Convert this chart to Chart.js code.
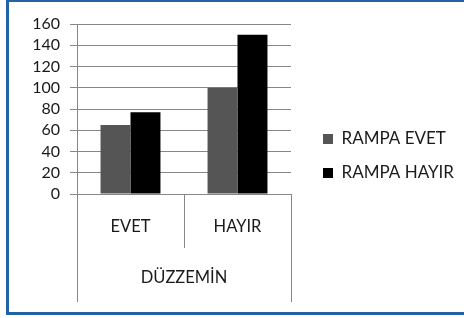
<!DOCTYPE html>
<html>
<head>
<meta charset="utf-8">
<script src="https://cdn.jsdelivr.net/npm/chart.js@4/dist/chart.umd.min.js"></script>
<style>
  html, body { margin: 0; padding: 0; background: #ffffff; overflow: hidden; }
  #wrap { position: relative; width: 464px; height: 318px; overflow: hidden; }
  #frame { position: absolute; left: 6px; top: -1px; width: 500px; height: 310px; border: 3px solid #2462a8; pointer-events: none; }
  #c { position: absolute; left: 0; top: 0; }
</style>
</head>
<body>
<div id="wrap">
  <div id="frame"></div>
  <canvas id="c" width="464" height="318"></canvas>
</div>
<script>
const categories = ['EVET', 'HAYIR'];
const groupLabel = 'DÜZZEMİN';
const seriesNames = ['RAMPA EVET', 'RAMPA HAYIR'];
const rampaEvet = [65, 100];
const rampaHayir = [77, 150];
const yTicks = [0, 20, 40, 60, 80, 100, 120, 140, 160];

const FONT = 'Lato, "Open Sans", "Liberation Sans", sans-serif';
const TEXT = '#1a1a1a';
const GRID = '#878787';

const multiLevelLines = {
  id: 'multiLevelLines',
  afterLayout(chart) {
    const lg = chart.legend;
    if (lg) {
      lg.left += 15;
      lg.right = chart.width + 40;
      lg.top -= 7; lg.bottom -= 7;
    }
  },
  afterDraw(chart) {
    const x = chart.scales.x;
    const area = chart.chartArea;
    const ctx = chart.ctx;
    ctx.save();
    ctx.strokeStyle = GRID;
    ctx.lineWidth = 1;
    ctx.beginPath();
    const outer = [x.left, x.right];
    outer.forEach(px => {
      const p = Math.round(px) + 0.5;
      ctx.moveTo(p, area.bottom);
      ctx.lineTo(p, x.bottom);
    });
    for (let i = 0; i < categories.length - 1; i++) {
      const mid = (x.getPixelForValue(i) + x.getPixelForValue(i + 1)) / 2;
      const p = Math.round(mid) + 0.5;
      ctx.moveTo(p, area.bottom);
      ctx.lineTo(p, (area.bottom + x.bottom) / 2);
    }
    ctx.stroke();
    ctx.restore();
  }
};

new Chart(document.getElementById('c'), {
  type: 'bar',
  data: {
    labels: categories,
    datasets: [
      { label: seriesNames[0], data: rampaEvet, backgroundColor: '#555555', borderWidth: 0 },
      { label: seriesNames[1], data: rampaHayir, backgroundColor: '#000000', borderWidth: 0 }
    ]
  },
  options: {
    responsive: false,
    animation: false,
    devicePixelRatio: 1,
    layout: { padding: { left: 0, top: 24, right: 33, bottom: 16 } },
    datasets: { bar: { categoryPercentage: 0.56, barPercentage: 1.0 } },
    plugins: {
      legend: {
        position: 'right',
        align: 'center',
        maxWidth: 140,
        labels: {
          boxWidth: 10, boxHeight: 10, padding: 17,
          color: TEXT,
          font: { family: FONT, size: 17 }
        }
      },
      tooltip: { enabled: false }
    },
    scales: {
      x: {
        offset: true,
        grid: { display: false },
        border: { display: false },
        ticks: { color: TEXT, font: { family: FONT, size: 16.5 }, padding: 15, maxRotation: 0 },
        title: { display: true, text: groupLabel, color: TEXT, font: { family: FONT, size: 16.5 }, padding: { top: 4, bottom: 14 } },
        afterFit(scale) { scale.height = 108; }
      },
      y: {
        min: yTicks[0],
        max: yTicks[yTicks.length - 1],
        afterBuildTicks(scale) { scale.ticks = yTicks.map(v => ({ value: v })); },
        grid: { color: GRID, tickLength: 7, tickColor: GRID },
        border: { display: true, color: GRID },
        ticks: { color: TEXT, font: { family: FONT, size: 16 }, padding: 10, autoSkip: false },
        afterFit(scale) { scale.width = 77; }
      }
    }
  },
  plugins: [multiLevelLines]
});
</script>
</body>
</html>
